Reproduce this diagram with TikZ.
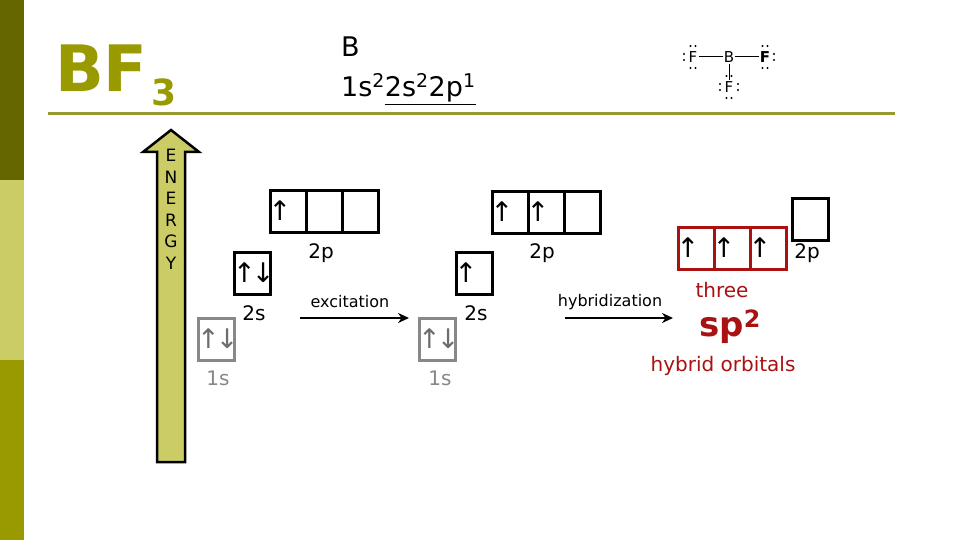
\documentclass[tikz,border=0pt]{standalone}
\usepackage{fontspec}
\setmainfont{DejaVu Sans}
\usetikzlibrary{arrows.meta}
\definecolor{oliveA}{HTML}{666600}
\definecolor{oliveB}{HTML}{CCCC66}
\definecolor{oliveC}{HTML}{999900}
\definecolor{lineol}{HTML}{999933}
\definecolor{hred}{HTML}{AA1111}
\definecolor{gbox}{HTML}{888888}
\tikzset{
 orb/.style={draw,line width=3pt,minimum width=36pt,minimum height=42pt,inner sep=0pt},
 lab/.style={font=\fontsize{20}{24}\selectfont,inner sep=0pt},
 arr/.style={font=\fontsize{27}{30}\selectfont,inner sep=0pt},
 react/.style={-{Stealth[length=11pt,width=10pt]},line width=2.6pt},
 small/.style={font=\fontsize{16}{19}\selectfont,inner sep=0pt},
}
\newcommand{\updn}{↑\kern-4pt↓}
\begin{document}
\begin{tikzpicture}[x=1pt,y=-1pt]
\useasboundingbox (0,0) rectangle (960,540);
\fill[white] (0,0) rectangle (960,540);
\fill[oliveA] (0,0) rectangle (24,180);
\fill[oliveB] (0,180) rectangle (24,360);
\fill[oliveC] (0,360) rectangle (24,540);
\draw[lineol,line width=3pt] (48,114) -- (895,114);
% title
\node[anchor=base west,inner sep=0pt,text=oliveC,font=\fontsize{64}{70}\selectfont\bfseries] (t) at (55,92) {BF};
\node[anchor=base west,inner sep=0pt,text=oliveC,font=\fontsize{36}{40}\selectfont\bfseries] (t3) at (t.base east) [xshift=3pt,yshift=-14pt] {3};
\node[anchor=base west,inner sep=0pt,font=\fontsize{27}{30}\selectfont] (b) at (341,57) {B};
\node[anchor=base west,inner sep=0pt,font=\fontsize{27}{30}\selectfont] (cfg) at (341,97) {1s\textsuperscript{2}\underline{2s\textsuperscript{2}2p\textsuperscript{1}}};
% Lewis
\begin{scope}[font=\fontsize{15}{17}\selectfont]
\node[inner sep=1pt] (f1) at (693,57) {F};
\node[inner sep=1pt] (bb) at (729,57) {B};
\node[inner sep=1pt] (f2) at (765,57) {\textbf{F}};
\node[inner sep=1pt] (f3) at (729,87) {F};
\draw[line width=1pt] (f1) -- (bb) -- (f2);
\draw[line width=1pt] (bb) -- (f3);
\foreach \n in {f1,f2,f3}{
 \fill ([xshift=-2.5pt,yshift=-11pt]\n.center) circle (1.2pt);
 \fill ([xshift=2.5pt,yshift=-11pt]\n.center) circle (1.2pt);
 \fill ([xshift=-2.5pt,yshift=11pt]\n.center) circle (1.2pt);
 \fill ([xshift=2.5pt,yshift=11pt]\n.center) circle (1.2pt);}
\foreach \n in {f1,f3}{
 \fill ([xshift=-9pt,yshift=-3pt]\n.center) circle (1.2pt);
 \fill ([xshift=-9pt,yshift=3pt]\n.center) circle (1.2pt);}
\foreach \n in {f2,f3}{
 \fill ([xshift=9pt,yshift=-3pt]\n.center) circle (1.2pt);
 \fill ([xshift=9pt,yshift=3pt]\n.center) circle (1.2pt);}
\end{scope}
% energy arrow
\draw[fill=oliveB,line width=2.5pt] (157,462) -- (157,152) -- (143,152) -- (171,130) -- (199,152) -- (185,152) -- (185,462) -- cycle;
\foreach \l [count=\i] in {E,N,E,R,G,Y}
 \node[inner sep=0pt,font=\fontsize{17}{19}\selectfont] (e\i) at (171,134+21.5*\i) {\l};
% left diagram
\node[orb,draw=gbox] (l1s) at (216.5,339) {};
\node[arr,text=gbox!80!black,anchor=west] (l1sa) at ([xshift=0pt]l1s.west) {\updn};
\node[lab,text=gbox] (l1sl) at (218,378) {1s};
\node[orb] (l2s) at (252.5,273) {};
\node[arr,anchor=west] (l2sa) at ([xshift=0pt]l2s.west) {\updn};
\node[lab] (l2sl) at (254,313) {2s};
\node[orb] (lp1) at (288,211) {};
\node[orb] (lp2) at (324,211) {};
\node[orb] (lp3) at (360,211) {};
\node[arr,anchor=west] (lp1a) at ([xshift=0pt]lp1.west) {↑};
\node[lab] (lpl) at (321,253) {2p};
\node[small] (exl) at (350,302) {excitation};
\coordinate (ex0) at (300,318); \coordinate (ex1) at (409,318);
\draw[react] (ex0) -- (ex1);
% middle
\node[orb,draw=gbox] (m1s) at (437.5,339) {};
\node[arr,text=gbox!80!black,anchor=west] (m1sa) at ([xshift=0pt]m1s.west) {\updn};
\node[lab,text=gbox] (m1sl) at (440,378) {1s};
\node[orb] (m2s) at (474,273) {};
\node[arr,anchor=west] (m2sa) at ([xshift=0pt]m2s.west) {↑};
\node[lab] (m2sl) at (476,313) {2s};
\node[orb] (mp1) at (510,212) {};
\node[orb] (mp2) at (546,212) {};
\node[orb] (mp3) at (582,212) {};
\node[arr,anchor=west] (mp1a) at ([xshift=0pt]mp1.west) {↑};
\node[arr,anchor=west] (mp2a) at ([xshift=0pt]mp2.west) {↑};
\node[lab] (mpl) at (542,253) {2p};
\node[small] (hyl) at (610,302) {hybridization};
\coordinate (hy0) at (565,318); \coordinate (hy1) at (673,318);
\draw[react] (hy0) -- (hy1);
% right
\node[orb,draw=hred] (h1) at (696,248) {};
\node[orb,draw=hred] (h2) at (732,248) {};
\node[orb,draw=hred] (h3) at (768,248) {};
\foreach \h in {h1,h2,h3}
 \node[arr,anchor=west] (\h a) at ([xshift=0pt]\h.west) {↑};
\node[orb] (rp) at (810,219) {};
\node[lab] (rpl) at (807,253) {2p};
\node[lab,text=hred] (three) at (722,290) {three};
\node[inner sep=0pt,text=hred,font=\fontsize{34}{38}\selectfont\bfseries] (sp) at (730,327) {sp\textsuperscript{2}};
\node[lab,text=hred] (ho) at (723,366) {hybrid orbitals};
\end{tikzpicture}
\end{document}
